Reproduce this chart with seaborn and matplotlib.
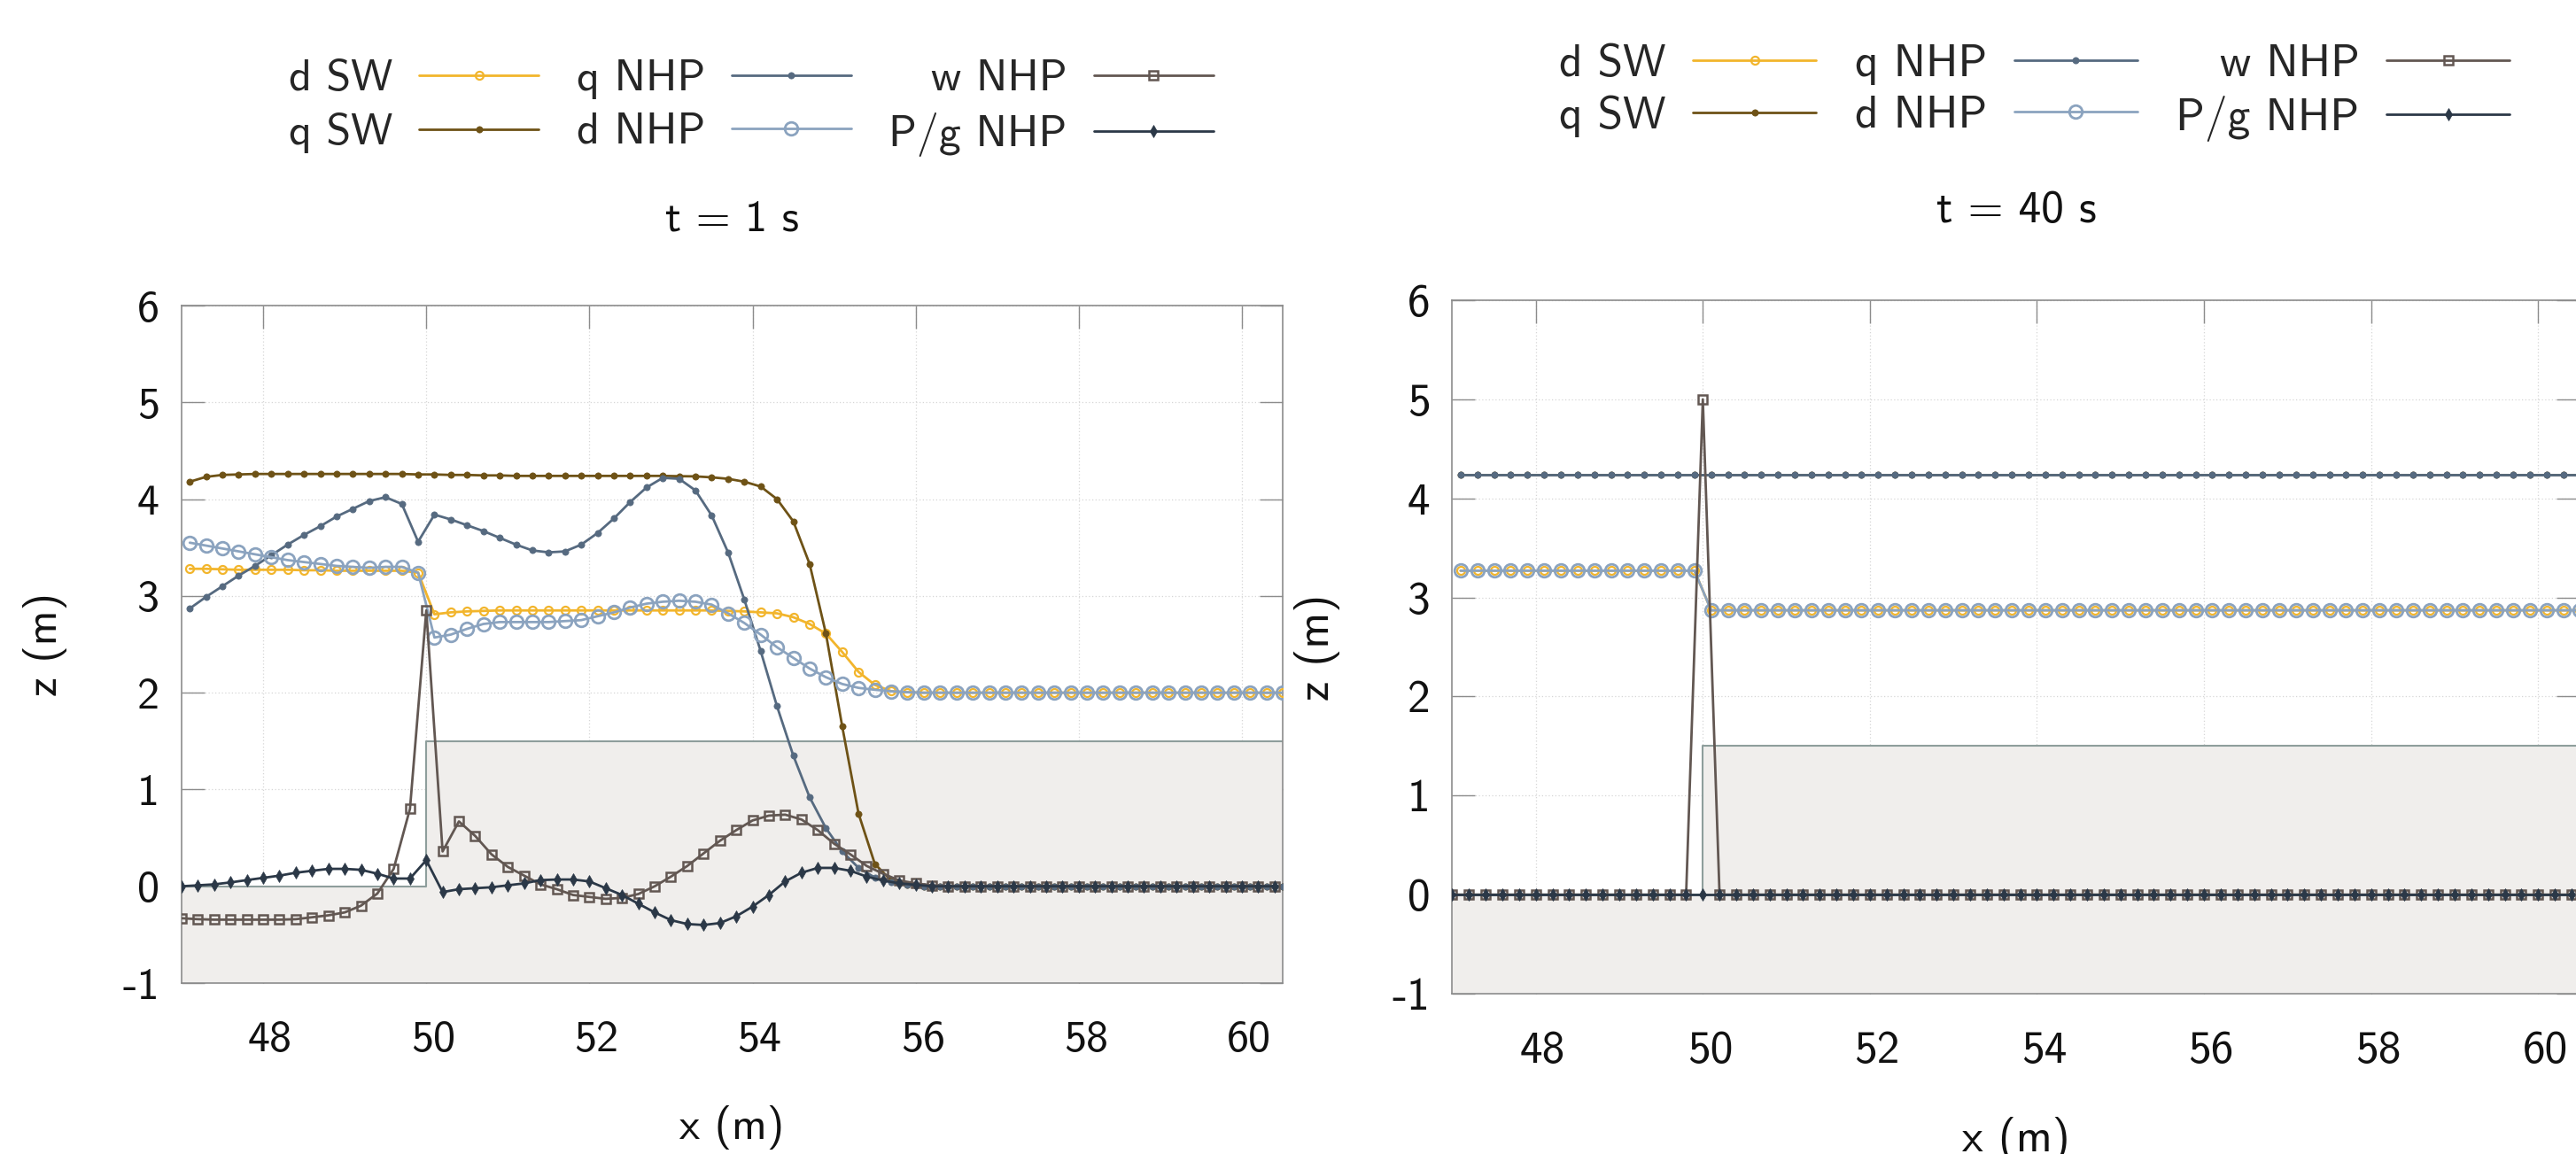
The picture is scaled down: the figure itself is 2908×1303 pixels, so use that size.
import numpy as np
import seaborn as sns
import matplotlib.pyplot as plt
from matplotlib.transforms import ScaledTranslation

# cell centres carry d and q, cell faces carry w and P/g (0.2 m mesh)
x_centre = np.round(np.arange(47.1, 60.55, 0.2), 1)
x_face = np.round(np.arange(47.0, 60.45, 0.2), 1)

# bed (step at x = 50 m)
bed_x = [47.0, 50.0, 50.0, 60.5]
bed_z = [0.0, 0.0, 1.5, 1.5]

# ---- t = 1 s ----
d_sw_1 = [3.28, 3.28, 3.275, 3.27, 3.27, 3.27, 3.27, 3.265, 3.265, 3.26,
          3.26, 3.26, 3.26, 3.26, 3.24, 2.81, 2.83, 2.84, 2.845, 2.85,
          2.85, 2.85, 2.85, 2.85, 2.85, 2.85, 2.85, 2.85, 2.85, 2.85,
          2.85, 2.85, 2.85, 2.845, 2.84, 2.83, 2.82, 2.78, 2.71, 2.61,
          2.42, 2.215, 2.08, 2.016, 2.005] + [2.0] * 23
q_sw_1 = [4.18, 4.23, 4.25, 4.255, 4.26, 4.26, 4.26, 4.26, 4.26, 4.26,
          4.26, 4.26, 4.26, 4.26, 4.255, 4.255, 4.25, 4.25, 4.245, 4.245,
          4.24, 4.24, 4.24, 4.24, 4.24, 4.24, 4.24, 4.24, 4.24, 4.24,
          4.237, 4.235, 4.225, 4.21, 4.18, 4.13, 4.0, 3.77, 3.33, 2.61,
          1.65, 0.75, 0.23, 0.06, 0.02] + [0.0] * 23
q_nhp_1 = [2.87, 2.99, 3.10, 3.21, 3.31, 3.42, 3.53, 3.63, 3.72, 3.82,
           3.90, 3.98, 4.02, 3.95, 3.56, 3.84, 3.79, 3.73, 3.67, 3.60,
           3.53, 3.47, 3.45, 3.46, 3.53, 3.65, 3.80, 3.97, 4.12, 4.22,
           4.21, 4.09, 3.83, 3.45, 2.96, 2.43, 1.86, 1.35, 0.92, 0.60,
           0.36, 0.19, 0.09, 0.04, 0.015] + [0.0] * 23
d_nhp_1 = [3.55, 3.52, 3.49, 3.46, 3.43, 3.40, 3.37, 3.35, 3.33, 3.31,
           3.30, 3.29, 3.30, 3.30, 3.24, 2.57, 2.60, 2.66, 2.71, 2.73,
           2.73, 2.73, 2.73, 2.74, 2.75, 2.79, 2.83, 2.88, 2.92, 2.94,
           2.95, 2.94, 2.91, 2.82, 2.72, 2.60, 2.47, 2.36, 2.25, 2.16,
           2.09, 2.05, 2.03, 2.015, 2.005] + [2.0] * 23
w_nhp_1 = [-0.33, -0.34, -0.345, -0.345, -0.345, -0.345, -0.345, -0.34, -0.32, -0.30,
           -0.27, -0.20, -0.075, 0.18, 0.80, 2.85, 0.36, 0.67, 0.52, 0.33,
           0.20, 0.11, 0.02, -0.03, -0.09, -0.11, -0.13, -0.12, -0.08, 0.0,
           0.10, 0.21, 0.34, 0.47, 0.58, 0.68, 0.73, 0.74, 0.69, 0.58,
           0.44, 0.33, 0.21, 0.13, 0.06, 0.03, 0.01] + [0.0] * 21
pg_nhp_1 = [0.0, 0.01, 0.02, 0.04, 0.064, 0.087, 0.11, 0.14, 0.16, 0.18,
            0.18, 0.17, 0.13, 0.08, 0.08, 0.27, -0.06, -0.03, -0.02, -0.01,
            0.01, 0.03, 0.064, 0.07, 0.07, 0.05, -0.02, -0.09, -0.18, -0.27,
            -0.35, -0.39, -0.40, -0.38, -0.31, -0.21, -0.09, 0.05, 0.14, 0.19,
            0.19, 0.16, 0.10, 0.06, 0.03, 0.015] + [0.0] * 22

# ---- t = 40 s ----
d_sw_40 = [3.27] * 15 + [2.87] * 53
q_sw_40 = [4.24] * 68
q_nhp_40 = [4.24] * 68
d_nhp_40 = [3.27] * 15 + [2.87] * 53
w_nhp_40 = [0.0] * 15 + [5.0] + [0.0] * 52
pg_nhp_40 = [0.0] * 68

labels = ["d SW", "q SW", "q NHP", "d NHP", "w NHP", "P/g NHP"]
x_ticks = [48, 50, 52, 54, 56, 58, 60]
y_ticks = [-1, 0, 1, 2, 3, 4, 5, 6]

sns.set_theme(style="whitegrid")
plt.rcParams["font.family"] = ["cmss10", "DejaVu Sans"]
plt.rcParams["axes.unicode_minus"] = False
plt.rcParams["axes.formatter.use_mathtext"] = False

styles = [
    dict(color="#f2b52c", marker="o", markersize=6.5, markerfacecolor="none", markeredgewidth=1.6),
    dict(color="#6e5216", marker="o", markersize=5.2, markeredgewidth=0.5),
    dict(color="#566a80", marker="o", markersize=5.2, markeredgewidth=0.5),
    dict(color="#8ba3bf", marker="o", markersize=10.5, markerfacecolor="none", markeredgewidth=2.0),
    dict(color="#625752", marker="s", markersize=7.6, markerfacecolor="none", markeredgewidth=1.8),
    dict(color="#2b3847", marker="d", markersize=7.5, markeredgewidth=0.5),
]

fig = plt.figure(figsize=(29.08, 13.03), dpi=100)
ax1 = fig.add_axes([205 / 2908, 193 / 1303, 1243 / 2908, 765 / 1303])
ax2 = fig.add_axes([1639.4 / 2908, 181 / 1303, 1273 / 2908, 783 / 1303])

panels = [
    (ax1, [d_sw_1, q_sw_1, q_nhp_1, d_nhp_1, w_nhp_1, pg_nhp_1], "t = 1 s", 36,
     (847.6, 122.0), 0.3, 61, 45),
    (ax2, [d_sw_40, q_sw_40, q_nhp_40, d_nhp_40, w_nhp_40, pg_nhp_40], "t = 40 s", 37,
     (2296.5, 105.0), 0.22, 63, 42),
]

for ax, series, title, fs, leg_xy, lspace, tpad, ypad in panels:
    ax.fill_between(bed_x, -1, bed_z, color="#f0eeec", zorder=1, linewidth=0)
    ax.plot(bed_x, bed_z, color="#8e9e9c", linewidth=1.5, zorder=1.1)

    for i, (vals, lab, st) in enumerate(zip(series, labels, styles)):
        xs = x_centre if i < 4 else x_face
        sns.lineplot(x=xs, y=vals, ax=ax, label=lab, linewidth=2.0,
                     markeredgecolor=st["color"], zorder=3 + i, **st)

    ax.set_xlim(47, 60.5)
    ax.set_ylim(-1, 6)
    ax.set_xticks(x_ticks)
    ax.set_yticks(y_ticks)
    ax.grid(True, color="#d6d6d6", linestyle=(0, (1, 2)), linewidth=0.9)
    for sp in ax.spines.values():
        sp.set_color("#8c8c8c")
        sp.set_linewidth(1.2)
    ax.tick_params(axis="both", which="both", direction="in", length=19, width=1.0,
                   color="#8c8c8c", labelsize=fs, labelcolor="#111111",
                   top=True, right=True, bottom=True, left=True)
    ax.tick_params(axis="x", pad=30)
    ax.tick_params(axis="y", pad=18)

    ax.set_xlabel("x (m)", fontsize=fs, color="#111111", labelpad=37)
    ax.set_ylabel("z (m)", fontsize=fs, color="#111111", labelpad=ypad)
    ax.set_title(title, fontsize=fs, color="#111111", pad=tpad)

    # gnuplot-like legend: label then sample, right aligned, 3 columns
    handles = ax.get_lines()[1:]
    ax.legend(handles=handles, labels=labels, ncol=3, markerfirst=False, frameon=False,
              fontsize=fs, handlelength=2.7, handletextpad=0.6, columnspacing=0.85,
              labelspacing=lspace, loc="center",
              bbox_to_anchor=(leg_xy[0] / 2908, 1 - leg_xy[1] / 1303),
              bbox_transform=fig.transFigure)

    # tick labels sit slightly right of their ticks in the original
    for lbl in ax.get_xticklabels():
        lbl.set_transform(lbl.get_transform() + ScaledTranslation(0.08, 0, fig.dpi_scale_trans))

fig.savefig("out.png", dpi=100)
